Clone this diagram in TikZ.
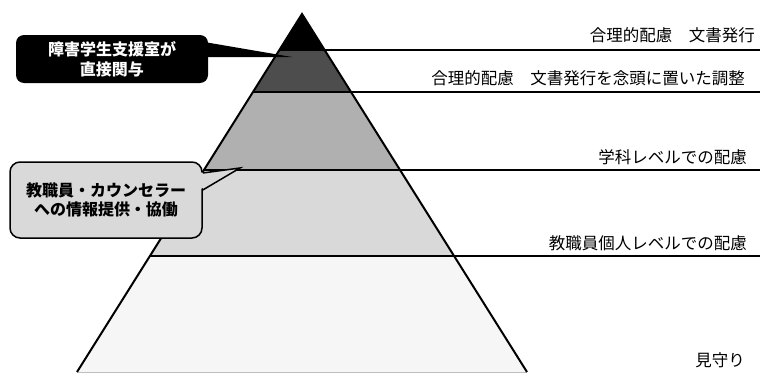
\documentclass[tikz,border=0pt]{standalone}
\usepackage{fontspec}
\setmainfont{Noto Sans CJK JP}
\definecolor{layerB}{HTML}{4D4D4D}
\definecolor{layerC}{HTML}{B0B0B0}
\definecolor{layerD}{HTML}{D9D9D9}
\definecolor{layerE}{HTML}{F6F6F6}
\begin{document}
\begin{tikzpicture}[x=1pt,y=-1pt,
  lvl/.style={line width=1.8pt},
  lbl/.style={anchor=east,inner sep=0pt,font=\fontsize{16.5}{19}\selectfont},
  callA/.style={rounded corners=8pt,fill=black,text=white,minimum width=192pt,minimum height=48pt,align=center,inner sep=0pt,font=\fontsize{16}{20}\selectfont\bfseries},
  callB/.style={rounded corners=10pt,fill=layerD,draw=black,line width=1.5pt,minimum width=192pt,minimum height=76pt,align=center,inner sep=0pt,font=\fontsize{16}{19}\selectfont\bfseries}]
\useasboundingbox (0,0) rectangle (760,372);
\fill[white] (0,0) rectangle (760,372);
% pyramid points
\coordinate (A) at (302,14);
\coordinate (L1) at (279.4,50);  \coordinate (R1) at (324.6,50);
\coordinate (L2) at (253.0,92);  \coordinate (R2) at (351.0,92);
\coordinate (L3) at (204.0,170); \coordinate (R3) at (400.0,170);
\coordinate (L4) at (149.9,256); \coordinate (R4) at (454.1,256);
\coordinate (BL) at (77,372);    \coordinate (BR) at (527,372);
\coordinate (E1) at (760,50);
\coordinate (E2) at (760,92);
\coordinate (E3) at (760,170);
\coordinate (E4) at (760,256);
% layers
\fill[black]  (A) -- (R1) -- (L1) -- cycle;
\fill[layerB] (L1) -- (R1) -- (R2) -- (L2) -- cycle;
\fill[layerC] (L2) -- (R2) -- (R3) -- (L3) -- cycle;
\fill[layerD] (L3) -- (R3) -- (R4) -- (L4) -- cycle;
\fill[layerE] (L4) -- (R4) -- (BR) -- (BL) -- cycle;
\draw[gray!50,line width=0.8pt] (BL) -- (BR);
% level lines
\draw[lvl] (L1) -- (E1);
\draw[lvl] (L2) -- (E2);
\draw[lvl] (L3) -- (E3);
\draw[lvl,line width=2.2pt] (L4) -- (E4);
\draw[line width=2pt,line join=miter] (BL) -- (A) -- (BR);
% labels
\node[lbl] (t1) at (755,35) {合理的配慮　文書発行};
\node[lbl] (t2) at (745,78) {合理的配慮　文書発行を念頭に置いた調整};
\node[lbl] (t3) at (747,157) {学科レベルでの配慮};
\node[lbl] (t4) at (747,243) {教職員個人レベルでの配慮};
\node[lbl] (t5) at (745,360) {見守り};
% callout 1
\node[callA] (c1) at (112,59) {障害学生支援室が\\直接関与};
\coordinate (p1) at (292,57);
\fill[black] ([xshift=-4pt,yshift=17pt]c1.east) -- (p1) -- ([xshift=-4pt,yshift=2pt]c1.east) -- cycle;
% callout 2
\node[callB] (c2) at (106,200) {教職員・カウンセラー\\への情報提供・協働};
\coordinate (p2) at (240,168);
\fill[layerD] ([xshift=-4pt,yshift=27pt]c2.east) -- (p2) -- ([xshift=-4pt,yshift=10pt]c2.east) -- cycle;
\draw[line width=1.5pt,line join=miter] ([yshift=27pt]c2.east) -- (p2) -- ([yshift=10pt]c2.east);
\end{tikzpicture}
\end{document}
